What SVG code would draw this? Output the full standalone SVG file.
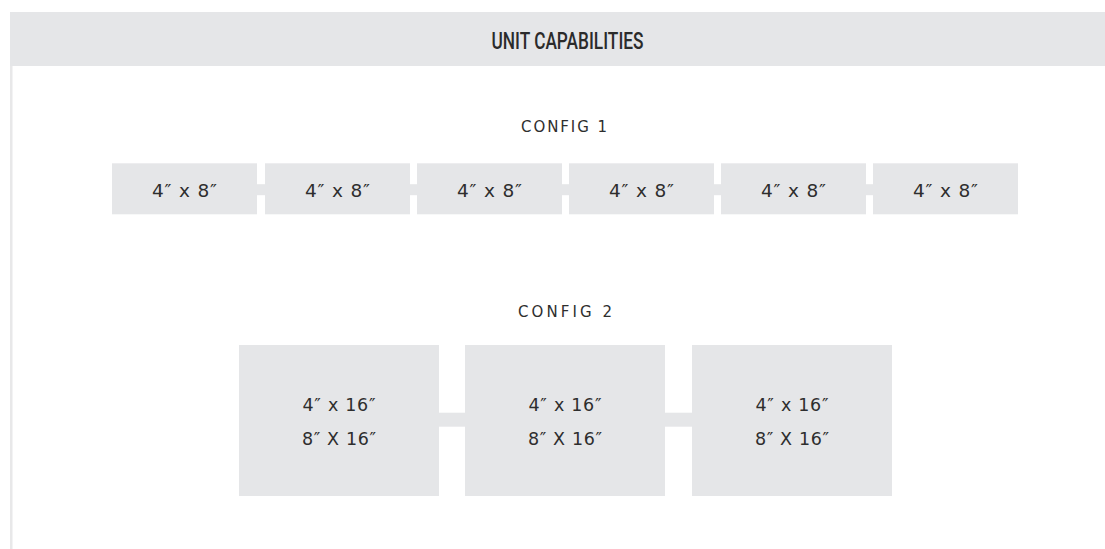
<svg xmlns="http://www.w3.org/2000/svg" width="1105" height="549" viewBox="0 0 1105 549">
<style>
.box{fill:#e5e6e8}
.lbl{font-family:"DejaVu Sans","Open Sans",sans-serif;fill:#2e2e2e;text-anchor:middle}
.c1{stroke:#e5e6e8;stroke-width:11}
.c2{stroke:#e5e6e8;stroke-width:14}
</style>
<rect width="1105" height="549" fill="#fff"/>
<g id="frame">
<rect x="10" y="12" width="1095" height="54" fill="#e5e6e8"/>
<rect x="10" y="66" width="2.5" height="483" fill="#e8e8e9"/>
<text x="567.5" y="49" font-family="Roboto,'Liberation Sans',sans-serif" font-weight="500" font-size="23" fill="#2b2b2b" text-anchor="middle" textLength="152" lengthAdjust="spacingAndGlyphs">UNIT CAPABILITIES</text>
</g>
<text class="lbl" x="564" y="132" font-size="15" textLength="86" lengthAdjust="spacing">CONFIG 1</text>
<text class="lbl" x="565" y="317" font-size="15" textLength="94" lengthAdjust="spacing">CONFIG 2</text>
<g id="connectors">
<line class="c1" x1="256" y1="189.7" x2="266" y2="189.7"/>
<line class="c1" x1="409" y1="189.7" x2="418" y2="189.7"/>
<line class="c1" x1="561" y1="189.7" x2="570" y2="189.7"/>
<line class="c1" x1="713" y1="189.7" x2="722" y2="189.7"/>
<line class="c1" x1="865" y1="189.7" x2="874" y2="189.7"/>
<line class="c2" x1="438" y1="419.7" x2="466" y2="419.7"/>
<line class="c2" x1="664" y1="419.7" x2="693" y2="419.7"/>
</g>
<g id="n1"><rect class="box" x="112" y="163.3" width="145" height="51"/><text class="lbl" x="184.5" y="196.5" font-size="18.5" textLength="65" lengthAdjust="spacing">4″ x 8″</text></g>
<g id="n2"><rect class="box" x="265" y="163.3" width="145" height="51"/><text class="lbl" x="337.5" y="196.5" font-size="18.5" textLength="65" lengthAdjust="spacing">4″ x 8″</text></g>
<g id="n3"><rect class="box" x="417" y="163.3" width="145" height="51"/><text class="lbl" x="489.5" y="196.5" font-size="18.5" textLength="65" lengthAdjust="spacing">4″ x 8″</text></g>
<g id="n4"><rect class="box" x="569" y="163.3" width="145" height="51"/><text class="lbl" x="641.5" y="196.5" font-size="18.5" textLength="65" lengthAdjust="spacing">4″ x 8″</text></g>
<g id="n5"><rect class="box" x="721" y="163.3" width="145" height="51"/><text class="lbl" x="793.5" y="196.5" font-size="18.5" textLength="65" lengthAdjust="spacing">4″ x 8″</text></g>
<g id="n6"><rect class="box" x="873" y="163.3" width="145" height="51"/><text class="lbl" x="945.5" y="196.5" font-size="18.5" textLength="65" lengthAdjust="spacing">4″ x 8″</text></g>
<g id="m1"><rect class="box" x="239" y="345" width="200" height="151"/><text class="lbl" x="339" y="411" font-size="17.5" textLength="73" lengthAdjust="spacing">4″ x 16″</text><text class="lbl" x="339" y="445" font-size="17.5" textLength="74" lengthAdjust="spacing">8″ X 16″</text></g>
<g id="m2"><rect class="box" x="465" y="345" width="200" height="151"/><text class="lbl" x="565" y="411" font-size="17.5" textLength="73" lengthAdjust="spacing">4″ x 16″</text><text class="lbl" x="565" y="445" font-size="17.5" textLength="74" lengthAdjust="spacing">8″ X 16″</text></g>
<g id="m3"><rect class="box" x="692" y="345" width="200" height="151"/><text class="lbl" x="792" y="411" font-size="17.5" textLength="73" lengthAdjust="spacing">4″ x 16″</text><text class="lbl" x="792" y="445" font-size="17.5" textLength="74" lengthAdjust="spacing">8″ X 16″</text></g>
</svg>
